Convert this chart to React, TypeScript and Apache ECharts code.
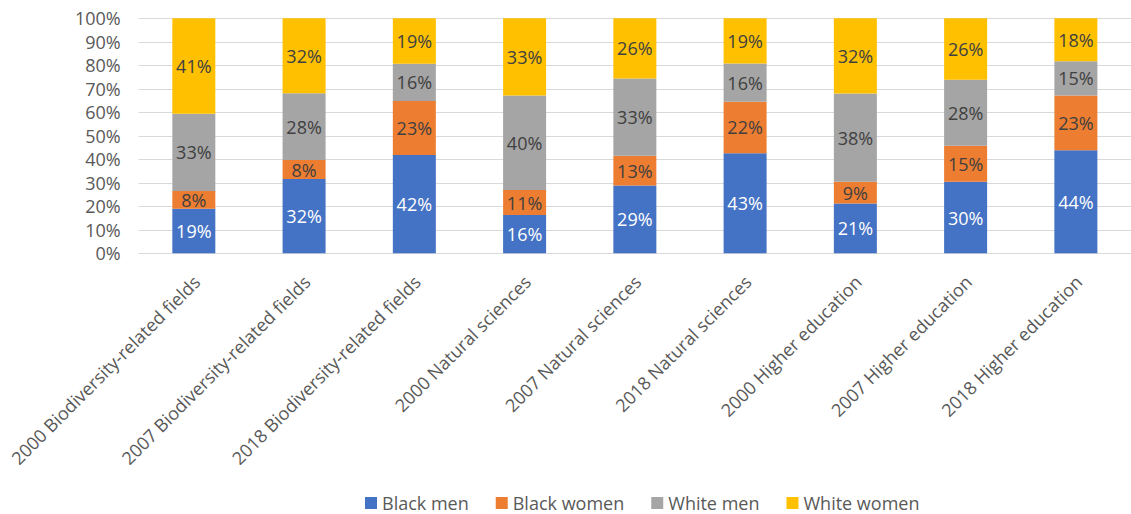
import React, { useEffect, useRef } from "react";
import * as echarts from "echarts";

const categories = [
  "2000 Biodiversity-related fields",
  "2007 Biodiversity-related fields",
  "2018 Biodiversity-related fields",
  "2000 Natural sciences",
  "2007 Natural sciences",
  "2018 Natural sciences",
  "2000 Higher education",
  "2007 Higher education",
  "2018 Higher education",
];

const blackMen = [19.0, 31.6, 41.8, 16.3, 28.8, 42.6, 21.2, 30.4, 43.8];
const blackWomen = [7.5, 8.1, 23.0, 10.6, 12.7, 21.9, 9.2, 15.4, 23.3];
const whiteMen = [32.9, 28.4, 15.9, 40.2, 32.9, 16.3, 37.6, 28.0, 14.6];
const whiteWomen = [40.6, 31.9, 19.3, 32.9, 25.6, 19.2, 32.0, 26.2, 18.3];

const seriesNames = ["Black men", "Black women", "White men", "White women"];
const seriesColors = ["#4472C4", "#ED7D31", "#A5A5A5", "#FFC000"];
const labelColors = ["#FFFFFF", "#404040", "#404040", "#404040"];

const FONT = "'Open Sans', 'Noto Sans', sans-serif";
const FS = 18;

export default function App() {
  const ref = useRef<HTMLDivElement>(null);
  useEffect(() => {
    if (!ref.current) return;
    const chart = echarts.init(ref.current, undefined, { renderer: "svg" });
    const data = [blackMen, blackWomen, whiteMen, whiteWomen];
    chart.setOption({
      animation: false,
      textStyle: { fontFamily: FONT },
      grid: { left: 138.7, top: 18.3, bottom: 260.7, width: 1007, containLabel: false },
      legend: {
        data: seriesNames,
        left: 365,
        top: 494,
        padding: 0,
        itemWidth: 12,
        itemHeight: 12,
        itemGap: 27,
        icon: "rect",
        textStyle: { fontSize: FS, lineHeight: 18, color: "#595959", fontFamily: FONT },
      },
      xAxis: {
        type: "category",
        data: categories,
        axisLine: { show: true, lineStyle: { color: "#D9D9D9", width: 1 } },
        axisTick: { show: false },
        axisLabel: {
          rotate: 45,
          interval: 0,
          margin: 14,
          verticalAlign: "top",
          lineHeight: 20,
          padding: [0, 6, 0, 0],
          color: "#595959",
          fontSize: FS,
          fontFamily: FONT,
        },
      },
      yAxis: {
        type: "value",
        min: 0,
        max: 100,
        interval: 10,
        axisLine: { show: false },
        axisTick: { show: false },
        splitLine: { lineStyle: { color: "#D9D9D9", width: 1 } },
        axisLabel: {
          formatter: "{value}%",
          color: "#595959",
          fontSize: FS,
          fontFamily: FONT,
          margin: 18,
        },
      },
      series: data.map((vals, i) => ({
        name: seriesNames[i],
        type: "bar",
        stack: "total",
        barWidth: "39%",
        data: vals,
        itemStyle: { color: seriesColors[i] },
        label: {
          show: true,
          position: "inside",
          formatter: (p: any) => Math.round(p.value) + "%",
          color: labelColors[i],
          fontSize: FS,
          fontFamily: FONT,
        },
      })),
    });
    return () => chart.dispose();
  }, []);
  return (
    <div
      ref={ref}
      style={{ position: "fixed", left: 0, top: 0, width: 1131, height: 514, background: "#fff" }}
    />
  );
}
